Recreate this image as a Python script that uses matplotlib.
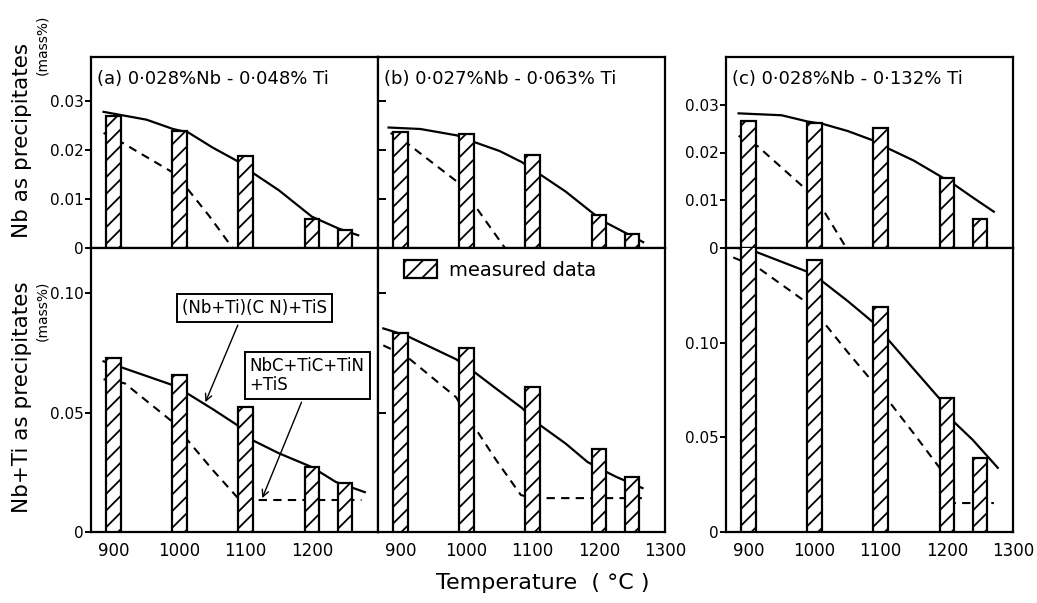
import matplotlib.pyplot as plt

plt.rcParams['font.family'] = 'DejaVu Sans'
plt.rcParams['hatch.linewidth'] = 1.3
plt.rcParams['hatch.color'] = 'black'

# reheating temperatures of the measured samples (deg C)
temps = [900, 1000, 1100, 1200, 1250]

# measured Nb in precipitates (mass%)
nb_meas_a = [0.0269, 0.0238, 0.0187, 0.0060, 0.0037]
nb_meas_b = [0.0236, 0.0232, 0.0189, 0.0068, 0.0029]
nb_meas_c = [0.0265, 0.0261, 0.0252, 0.0147, 0.0061]

# measured Nb+Ti in precipitates (mass%)
nbti_meas_a = [0.0728, 0.0657, 0.0523, 0.0272, 0.0205]
nbti_meas_b = [0.0833, 0.0770, 0.0607, 0.0347, 0.0230]
nbti_meas_c = [0.1600, 0.1434, 0.1190, 0.0709, 0.0392]

# calculated, (Nb,Ti)(C,N)+TiS model -- solid curves
nb_calc_a_t = [885, 950, 990, 1013, 1050, 1088, 1110, 1150, 1200, 1240, 1270]
nb_calc_a = [0.0278, 0.0262, 0.0243, 0.0236, 0.0205, 0.0177, 0.0154, 0.0118, 0.0064, 0.0040, 0.0026]
nb_calc_b_t = [882, 930, 985, 1008, 1050, 1084, 1107, 1150, 1190, 1209, 1267]
nb_calc_b = [0.0246, 0.0243, 0.0230, 0.0218, 0.0198, 0.0175, 0.0154, 0.0115, 0.0072, 0.0053, 0.0012]
nb_calc_c_t = [885, 950, 989, 1012, 1050, 1089, 1112, 1150, 1188, 1212, 1240, 1271]
nb_calc_c = [0.0282, 0.0278, 0.0265, 0.0260, 0.0245, 0.0225, 0.0208, 0.0183, 0.0152, 0.0132, 0.0105, 0.0076]

nbti_calc_a_t = [885, 912, 990, 1012, 1050, 1087, 1110, 1150, 1200, 1236, 1280]
nbti_calc_a = [0.0715, 0.0690, 0.0615, 0.0580, 0.0515, 0.0448, 0.0385, 0.0330, 0.0272, 0.0210, 0.0167]
nbti_calc_b_t = [874, 908, 984, 1008, 1045, 1084, 1107, 1150, 1183, 1209, 1227, 1266]
nbti_calc_b = [0.0853, 0.0824, 0.0724, 0.0678, 0.0600, 0.0519, 0.0456, 0.0370, 0.0293, 0.0255, 0.0230, 0.0184]
nbti_calc_c_t = [885, 911, 988, 1012, 1050, 1089, 1114, 1150, 1189, 1212, 1239, 1277]
nbti_calc_c = [0.1500, 0.1480, 0.1376, 0.1323, 0.1220, 0.1106, 0.1005, 0.0860, 0.0704, 0.0577, 0.0487, 0.0339]

# calculated, NbC+TiC+TiN+TiS model -- dashed curves
nb_sep_a_t = [885, 912, 990, 1013, 1045, 1080]
nb_sep_a = [0.0235, 0.0216, 0.0154, 0.0119, 0.0065, 0.0]
nb_sep_b_t = [885, 908, 985, 1008, 1058]
nb_sep_b = [0.0235, 0.0216, 0.0136, 0.0095, 0.0]
nb_sep_c_t = [885, 914, 986, 1012, 1048]
nb_sep_c = [0.0235, 0.0213, 0.0124, 0.0082, 0.0]

nbti_sep_a_t = [885, 917, 990, 1012, 1050, 1087, 1100, 1275]
nbti_sep_a = [0.0640, 0.0623, 0.0460, 0.0385, 0.0260, 0.0146, 0.0134, 0.0134]
nbti_sep_b_t = [874, 909, 984, 1008, 1045, 1082, 1100, 1265]
nbti_sep_b = [0.0782, 0.0736, 0.0565, 0.0456, 0.0300, 0.0155, 0.0142, 0.0142]
nbti_sep_c_t = [877, 914, 988, 1014, 1050, 1089, 1114, 1150, 1189, 1200, 1271]
nbti_sep_c = [0.1450, 0.1397, 0.1212, 0.1106, 0.0950, 0.0788, 0.0683, 0.0520, 0.0339, 0.0153, 0.0153]

titles = ['(a) 0·028%Nb - 0·048% Ti',
          '(b) 0·027%Nb - 0·063% Ti',
          '(c) 0·028%Nb - 0·132% Ti']

W, H = 1037, 603
fig = plt.figure(figsize=(W / 100, H / 100), dpi=100)

def px_axes(x0, y0, x1, y1):
    return fig.add_axes([x0 / W, 1 - y1 / H, (x1 - x0) / W, (y1 - y0) / H])

lefts = [91, 378, 726]
top_axes = [px_axes(l, 57, l + 287, 248) for l in lefts]
bot_axes = [px_axes(l, 248, l + 287, 532) for l in lefts]

meas_top = [nb_meas_a, nb_meas_b, nb_meas_c]
meas_bot = [nbti_meas_a, nbti_meas_b, nbti_meas_c]
calc_top = [(nb_calc_a_t, nb_calc_a), (nb_calc_b_t, nb_calc_b), (nb_calc_c_t, nb_calc_c)]
calc_bot = [(nbti_calc_a_t, nbti_calc_a), (nbti_calc_b_t, nbti_calc_b), (nbti_calc_c_t, nbti_calc_c)]
sep_top = [(nb_sep_a_t, nb_sep_a), (nb_sep_b_t, nb_sep_b), (nb_sep_c_t, nb_sep_c)]
sep_bot = [(nbti_sep_a_t, nbti_sep_a), (nbti_sep_b_t, nbti_sep_b), (nbti_sep_c_t, nbti_sep_c)]

def draw_panel(ax, meas, calc, sep):
    ax.plot(calc[0], calc[1], color='black', lw=1.6, zorder=2)
    ax.plot(sep[0], sep[1], color='black', lw=1.5, ls=(0, (4, 3)), zorder=2)
    bars = ax.bar(temps, meas, width=22, facecolor='white', edgecolor='black',
                  lw=1.6, hatch='//', zorder=3)
    ax.set_xlim(866, 1300)
    for s in ax.spines.values():
        s.set_linewidth(1.6)
    ax.tick_params(axis='x', length=0, pad=7, labelsize=12)
    return bars

bar_handle = None
for i in range(3):
    draw_panel(top_axes[i], meas_top[i], calc_top[i], sep_top[i])
    b = draw_panel(bot_axes[i], meas_bot[i], calc_bot[i], sep_bot[i])
    if i == 1:
        bar_handle = b
    top_axes[i].set_xticks([])
    top_axes[i].text(0.02, 0.93, titles[i], transform=top_axes[i].transAxes,
                     fontsize=13, ha='left', va='top')

# y scales
for i in (0, 1):
    top_axes[i].set_ylim(0, 0.039)
    bot_axes[i].set_ylim(0, 0.119)
top_axes[2].set_ylim(0, 0.040)
bot_axes[2].set_ylim(0, 0.150)

for ax in top_axes:
    ax.set_yticks([0, 0.01, 0.02, 0.03])
for ax in bot_axes:
    ax.set_yticks([0, 0.05, 0.10])

for i in (0, 2):
    top_axes[i].set_yticklabels(['0', '0.01', '0.02', '0.03'])
    bot_axes[i].set_yticklabels(['0', '0.05', '0.10'])
    for ax in (top_axes[i], bot_axes[i]):
        ax.tick_params(axis='y', direction='out', length=4, width=1.4, pad=1, labelsize=11)

for ax in (top_axes[1], bot_axes[1]):
    ax.tick_params(axis='y', direction='in', length=6, width=1.4, labelleft=False)

bot_axes[0].set_xticks([900, 1000, 1100, 1200])
bot_axes[1].set_xticks([900, 1000, 1100, 1200, 1300])
bot_axes[2].set_xticks([900, 1000, 1100, 1200, 1300])

# legend for the hatched bars
bot_axes[1].legend([bar_handle], ['measured data'], loc='upper left',
                   bbox_to_anchor=(0.05, 1.0), borderaxespad=0.2, frameon=False,
                   fontsize=14, handlelength=1.7, handleheight=1.1, handletextpad=0.6)

# model labels with arrows
box = dict(boxstyle='square,pad=0.3', facecolor='white', edgecolor='black', lw=1.4)
bot_axes[0].annotate('(Nb+Ti)(C N)+TiS', xy=(1039, 0.0544), xytext=(1113, 0.0939),
                     ha='center', va='center', fontsize=12, bbox=box,
                     arrowprops=dict(arrowstyle='->', color='black', lw=1.0,
                                     relpos=(0.41, 0.0), shrinkB=0))
bot_axes[0].annotate('NbC+TiC+TiN\n+TiS', xy=(1125, 0.0142), xytext=(1106, 0.0657),
                     ha='left', va='center', fontsize=12, bbox=box, linespacing=1.1,
                     arrowprops=dict(arrowstyle='->', color='black', lw=1.0,
                                     relpos=(0.48, 0.0), shrinkB=0))

# axis titles
fig.text(22 / W, 1 - 140 / H, 'Nb as precipitates', rotation=90,
         ha='center', va='center', fontsize=15.5)
fig.text(42.5 / W, 1 - 45 / H, '(mass%)', rotation=90,
         ha='center', va='center', fontsize=10)
fig.text(22 / W, 1 - 397 / H, 'Nb+Ti as precipitates', rotation=90,
         ha='center', va='center', fontsize=15.5)
fig.text(42.5 / W, 1 - 311 / H, '(mass%)', rotation=90,
         ha='center', va='center', fontsize=10)
fig.text(543 / W, 1 - 583 / H, 'Temperature  ( °C )', ha='center', va='center', fontsize=16)

fig.savefig('out.png', dpi=100)
